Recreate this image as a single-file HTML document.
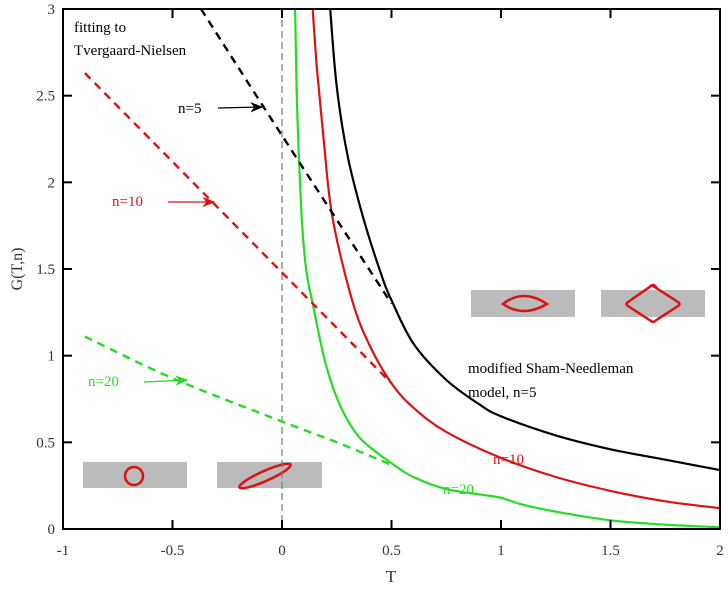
<!DOCTYPE html>
<html><head><meta charset="utf-8"><style>
html,body{margin:0;padding:0;background:#fff}
svg{display:block;font-family:"Liberation Serif",serif}
</style></head><body>
<svg id="c" width="728" height="591" viewBox="0 0 728 591">
<defs>
<marker id="ak" markerWidth="10" markerHeight="8" refX="9" refY="4" orient="auto"><path d="M0,0L10,4L0,8L3,4Z" fill="#000"/></marker>
<marker id="ar" markerWidth="10" markerHeight="8" refX="9" refY="4" orient="auto"><path d="M0,0L10,4L0,8L3,4Z" fill="#e01010"/></marker>
<marker id="ag" markerWidth="10" markerHeight="8" refX="9" refY="4" orient="auto"><path d="M0,0L10,4L0,8L3,4Z" fill="#22dd22"/></marker>
</defs>
<g id="insets">
<rect x="83" y="462" width="104" height="26" fill="#bbb"/>
<circle cx="134" cy="476" r="9" fill="none" stroke="#e01010" stroke-width="2.5"/>
<rect x="217" y="462" width="105" height="26" fill="#bbb"/>
<ellipse cx="265" cy="476" rx="28" ry="5" transform="rotate(-24 265 476)" fill="none" stroke="#e01010" stroke-width="2.5"/>
<rect x="471" y="290" width="104" height="27" fill="#bbb"/>
<path d="M503,304 Q523,288 547,304 Q523,318 503,304Z" fill="none" stroke="#e01010" stroke-width="2.5"/>
<rect x="601" y="290" width="104" height="27" fill="#bbb"/>
<path d="M653,286 L678,302 Q681,304 678,306 L655,321 Q653,323 651,321 L628,306 Q625,304 628,302 L651,286 Q653,284 655,286Z" fill="none" stroke="#e01010" stroke-width="2.5"/>
</g>
<g id="plot"></g>
<rect x="63" y="9" width="657" height="520" fill="none" stroke="#000" stroke-width="2"/>
<g id="ticks"></g>
<text x="74" y="32" font-size="15">fitting to</text>
<text x="74" y="55" font-size="15">Tvergaard-Nielsen</text>
<text x="178" y="113" font-size="15">n=5</text>
<line x1="218" y1="108" x2="262" y2="107" stroke="#000" stroke-width="1.3" marker-end="url(#ak)"/>
<text x="112" y="206" font-size="15" fill="#e01010">n=10</text>
<line x1="168" y1="202" x2="214" y2="202" stroke="#e01010" stroke-width="1.3" marker-end="url(#ar)"/>
<text x="88" y="386" font-size="15" fill="#22dd22">n=20</text>
<line x1="144" y1="382" x2="187" y2="380" stroke="#22dd22" stroke-width="1.3" marker-end="url(#ag)"/>
<text x="468" y="373" font-size="15">modified Sham-Needleman</text>
<text x="468" y="397" font-size="15">model, n=5</text>
<text x="493" y="464" font-size="15" fill="#e01010">n=10</text>
<text x="443" y="494" font-size="15" fill="#22dd22">n=20</text>
<text x="391" y="582" font-size="17" text-anchor="middle" fill="#333">T</text>
<text transform="translate(22 269) rotate(-90)" font-size="16" text-anchor="middle" fill="#333">G(T,n)</text>
</svg>
<script>
const xTicks=[-1,-0.5,0,0.5,1,1.5,2];
const yTicks=[0,0.5,1,1.5,2,2.5,3];
const blackT=[0.22,0.25,0.3,0.37,0.45,0.5,0.6,0.75,0.9,1,1.25,1.5,1.75,2];
const blackG=[3,2.55,2.15,1.8,1.48,1.32,1.07,0.86,0.72,0.65,0.54,0.46,0.4,0.34];
const redT=[0.14,0.16,0.19,0.23,0.32,0.4,0.5,0.6,0.75,1,1.25,1.5,1.75,2];
const redG=[3,2.65,2.25,1.8,1.32,1.06,0.84,0.7,0.56,0.41,0.3,0.22,0.16,0.12];
const greenT=[0.06,0.07,0.09,0.11,0.14,0.2,0.27,0.36,0.5,0.6,0.75,0.9,1,1.1,1.25,1.5,1.75,2];
const greenG=[3,2.4,1.8,1.5,1.3,0.95,0.7,0.52,0.38,0.3,0.23,0.2,0.18,0.14,0.1,0.05,0.025,0.01];
const blackDashT=[-0.37,0,0.5];
const blackDashG=[3,2.27,1.3];
const redDashT=[-0.9,0,0.5];
const redDashG=[2.63,1.48,0.84];
const greenDashT=[-0.9,-0.5,0,0.25,0.5];
const greenDashG=[1.11,0.87,0.62,0.5,0.37];
const X=t=>63+(t+1)*219;
const Y=g=>529-g*173.33;
const NS="http://www.w3.org/2000/svg";
const plot=document.getElementById('plot');
const tk=document.getElementById('ticks');
function mk(tag,attrs,parent){const e=document.createElementNS(NS,tag);for(const k in attrs)e.setAttribute(k,attrs[k]);parent.appendChild(e);return e;}
const zl=mk('line',{x1:X(0),x2:X(0),y1:9,y2:529,stroke:'#777','stroke-width':1.2,'stroke-dasharray':'7,4'},plot);


function smooth(P){
  let d='M'+P[0][0].toFixed(1)+','+P[0][1].toFixed(1);
  for(let i=0;i<P.length-1;i++){
    const p0=P[i-1]||P[i],p1=P[i],p2=P[i+1],p3=P[i+2]||p2;
    const c1=[p1[0]+(p2[0]-p0[0])/6,p1[1]+(p2[1]-p0[1])/6];
    const c2=[p2[0]-(p3[0]-p1[0])/6,p2[1]-(p3[1]-p1[1])/6];
    d+=' C'+c1[0].toFixed(1)+','+c1[1].toFixed(1)+' '+c2[0].toFixed(1)+','+c2[1].toFixed(1)+' '+p2[0].toFixed(1)+','+p2[1].toFixed(1);
  }
  return d;
}
function series(T,G,color,dash,name){
  const P=T.map((t,i)=>[X(t),Y(G[i])]);
  const p=mk('path',{d:smooth(P),fill:'none',stroke:color,'stroke-width':dash?2.4:2.2,'stroke-dasharray':dash?'8,6':'none','stroke-linejoin':'round'},plot);
  
  
}
series(blackT,blackG,'#000',false,'curve-n5-sham');
series(redT,redG,'#dd1111',false,'curve-n10-sham');
series(greenT,greenG,'#22dd22',false,'curve-n20-sham');
series(blackDashT,blackDashG,'#000',true,'curve-n5-tvergaard');
series(redDashT,redDashG,'#dd1111',true,'curve-n10-tvergaard');
series(greenDashT,greenDashG,'#22dd22',true,'curve-n20-tvergaard');
xTicks.forEach(t=>{
  mk('line',{x1:X(t),x2:X(t),y1:529,y2:520,stroke:'#000','stroke-width':2},tk);
  mk('line',{x1:X(t),x2:X(t),y1:9,y2:18,stroke:'#000','stroke-width':2},tk);
  const l=mk('text',{x:X(t),y:555,'font-size':15,'text-anchor':'middle',fill:'#333'},tk);
  l.textContent=t;
  
  
});
yTicks.forEach(g=>{
  mk('line',{x1:63,x2:72,y1:Y(g),y2:Y(g),stroke:'#000','stroke-width':2},tk);
  mk('line',{x1:720,x2:711,y1:Y(g),y2:Y(g),stroke:'#000','stroke-width':2},tk);
  const l=mk('text',{x:55,y:Y(g)+5,'font-size':15,'text-anchor':'end',fill:'#333'},tk);
  l.textContent=g;
  
  
});
</script>
</body></html>
